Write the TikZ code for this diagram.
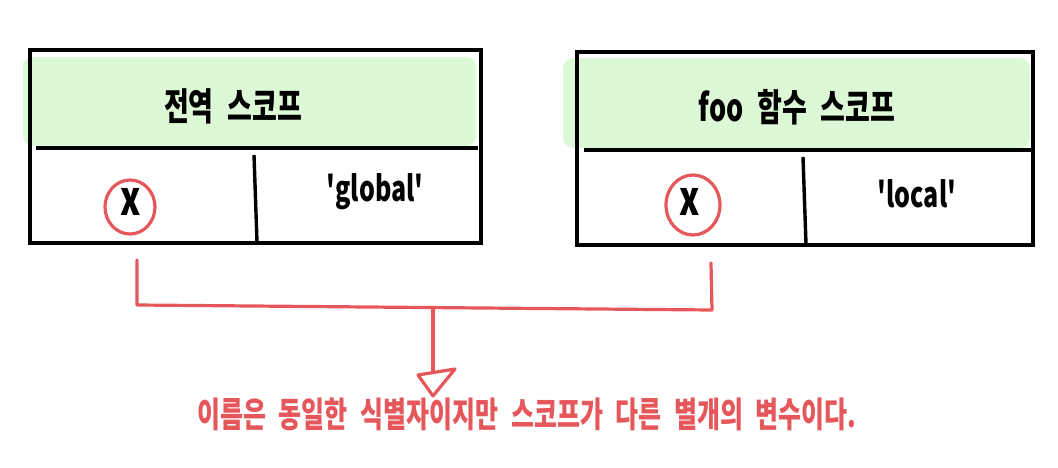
\documentclass[tikz,border=0pt]{standalone}
\usepackage{fontspec}
\usepackage{graphicx}
\setmainfont{Noto Sans CJK KR}
\newfontfamily\kr{Noto Sans CJK KR}[WordSpace=2.2]
\newcommand{\tallt}[1]{\scalebox{1}[1.4]{#1}}
\definecolor{hdrgreen}{HTML}{DDF8D6}
\definecolor{penred}{HTML}{E5575A}
\tikzset{
  boxline/.style={draw=black, line width=3.4pt},
  redline/.style={draw=penred, line width=3.2pt, line cap=round, line join=round},
  hdrfill/.style={fill=hdrgreen, rounded corners=10pt},
  hdrtext/.style={font=\kr\bfseries\fontsize{27}{30}\selectfont, text=black},
  valtext/.style={font=\kr\bfseries\fontsize{25}{28}\selectfont, text=black},
  vartext/.style={font=\kr\bfseries\fontsize{34}{36}\selectfont, text=black},
  notetext/.style={font=\kr\bfseries\fontsize{25}{28}\selectfont, text=penred},
}
\begin{document}
\begin{tikzpicture}[x=1pt,y=-1pt]
\useasboundingbox (0,0) rectangle (1058,468);
% green header fills
\fill[hdrfill] (23,57) rectangle (476,146);
\fill[hdrfill] (563,58) rectangle (1030,148);
% left table
\draw[boxline] (30,50) rectangle (481,243);
\draw[boxline] (36,148) -- (478,148);
\draw[boxline] (254,155) -- (257,242);
% right table
\draw[boxline] (577,52) rectangle (1033,245);
\draw[boxline] (584,150) -- (1031,150);
\draw[boxline] (803,157) -- (806,244);
% texts
\node[hdrtext] (gh) at (233,106) {\tallt{전역 스코프}};
\node[hdrtext] (fh) at (797,107) {\tallt{foo 함수 스코프}};
\node[vartext] (gx) at (131,202) {\tallt{x}};
\node[vartext] (fx) at (690,202) {\tallt{x}};
\node[valtext] (gv) at (375,192) {\tallt{'global'}};
\node[valtext] (fv) at (917,194) {\tallt{'local'}};
% red circles
\draw[redline] (130,207) ellipse (25pt and 27pt);
\draw[redline] (693,205) ellipse (27pt and 30pt);
% bracket
\coordinate (bl) at (137,260);
\coordinate (blc) at (137,305);
\coordinate (br) at (711,263);
\coordinate (brc) at (712,310);
\coordinate (st) at (433,308);
\coordinate (sb) at (433,372);
\draw[redline] (bl) -- (blc) -- (brc) -- (br);
\draw[redline] (st) -- (sb);
\node[notetext] (note) at (527,414) {\tallt{이름은 동일한 식별자이지만 스코프가 다른 별개의 변수이다.}};
\draw[redline] (418,375) -- (455,369) -- (433,396) -- cycle;
\end{tikzpicture}
\end{document}
